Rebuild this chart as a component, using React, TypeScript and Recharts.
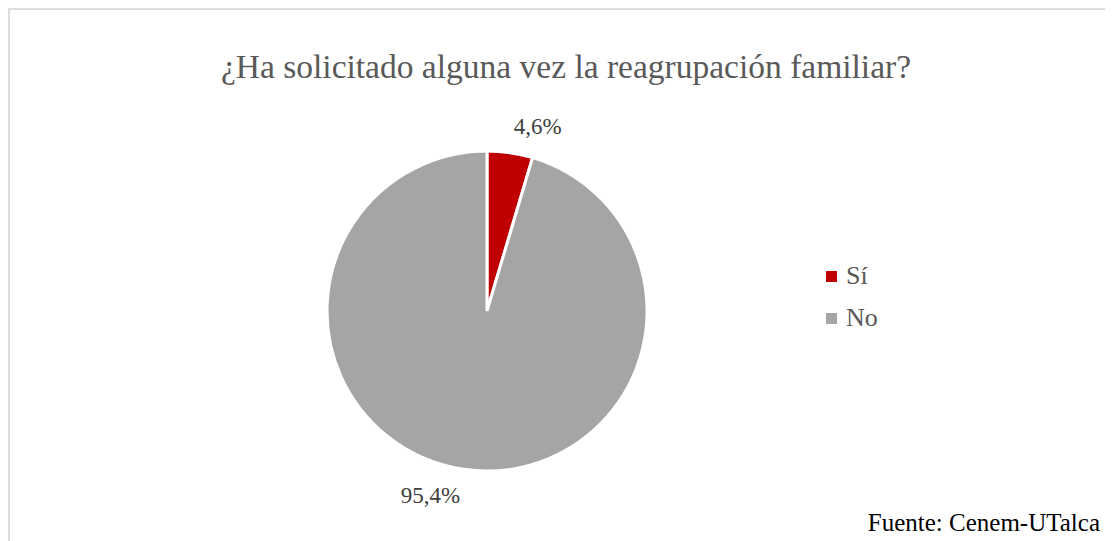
import React from "react";
import { PieChart, Pie, Cell, Legend } from "recharts";

const categories = ["Sí", "No"];
const values = [4.6, 95.4];
const labels = ["4,6%", "95,4%"];
const colors = ["#C00000", "#A5A5A5"];

const data = categories.map((name, i) => ({ name, value: values[i], label: labels[i] }));

const FONT = "'Liberation Serif', 'DejaVu Serif', serif";
const RAD = Math.PI / 180;

const renderLabel = (props: any) => {
  const { cx, cy, midAngle, outerRadius, index } = props;
  const r = outerRadius + 26;
  const cos = Math.cos(-midAngle * RAD);
  const sin = Math.sin(-midAngle * RAD);
  const x = cx + r * cos;
  const y = cy + r * sin;
  return (
    <text
      x={x}
      y={y}
      fill="#404040"
      fontSize={23}
      fontFamily={FONT}
      textAnchor={cos >= 0 ? "start" : "end"}
      dominantBaseline="central"
    >
      {labels[index]}
    </text>
  );
};

const renderLegend = () => (
  <div style={{ fontFamily: FONT }}>
    {data.map((d, i) => (
      <div key={d.name} style={{ display: "flex", alignItems: "center", height: 42 }}>
        <span style={{ display: "inline-block", width: 11, height: 11, background: colors[i], marginRight: 9 }} />
        <span style={{ color: "#595959", fontSize: 26 }}>{d.name}</span>
      </div>
    ))}
  </div>
);

export default function App() {
  return (
    <div
      style={{
        position: "relative",
        width: 1105,
        height: 533,
        boxSizing: "border-box",
        borderTop: "2px solid #dedede",
        borderLeft: "2px solid #dedede",
        background: "#fff",
        overflow: "hidden",
      }}
    >
      <div
        style={{
          position: "absolute",
          left: 0,
          top: 37,
          width: 1112,
          textAlign: "center",
          fontFamily: FONT,
          fontSize: 33.5,
          color: "#595959",
          lineHeight: "40px",
        }}
      >
        ¿Ha solicitado alguna vez la reagrupación familiar?
      </div>
      <PieChart
        width={1103}
        height={531}
        margin={{ top: 0, right: 0, bottom: 0, left: 0 }}
        style={{ position: "absolute", left: 0, top: 0 }}
      >
        <Pie
          data={data}
          dataKey="value"
          nameKey="name"
          cx={477}
          cy={301}
          outerRadius={160}
          startAngle={90}
          endAngle={-270}
          stroke="#ffffff"
          strokeWidth={3}
          label={renderLabel}
          labelLine={false}
          isAnimationActive={false}
        >
          {data.map((d, i) => (
            <Cell key={d.name} fill={colors[i]} />
          ))}
        </Pie>
        <Legend
          content={renderLegend}
          wrapperStyle={{ position: "absolute", left: 816, top: 245, width: 120 }}
        />
      </PieChart>
      <div
        style={{
          position: "absolute",
          right: 13,
          top: 498,
          fontFamily: FONT,
          fontSize: 25,
          color: "#000",
          lineHeight: "30px",
        }}
      >
        Fuente: Cenem-UTalca
      </div>
    </div>
  );
}
